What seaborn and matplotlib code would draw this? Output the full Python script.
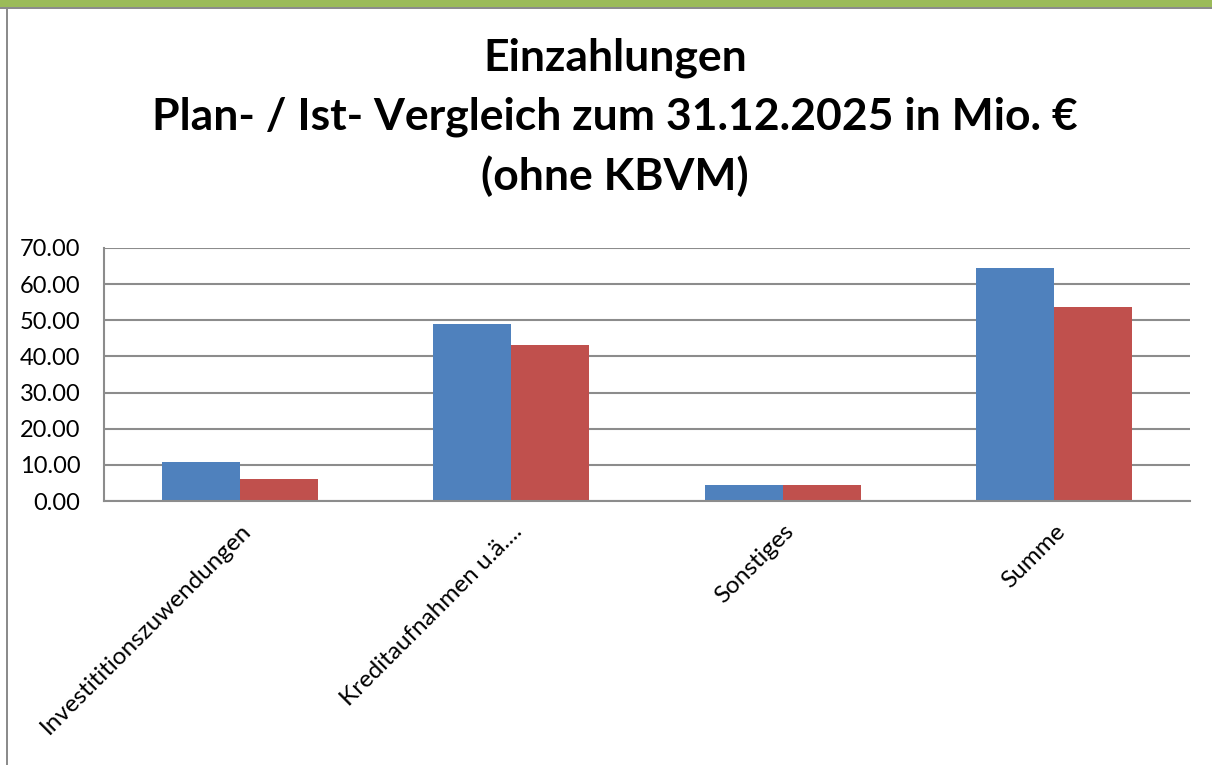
import matplotlib
matplotlib.use("Agg")
import matplotlib.pyplot as plt
from matplotlib.patches import Rectangle
import seaborn as sns
import pandas as pd

categories = ["Investititionszuwendungen", "Kreditaufnahmen u.ä....", "Sonstiges", "Summe"]
plan_values = [10.9, 49.0, 4.5, 64.4]
ist_values = [6.2, 43.1, 4.3, 53.6]
series_names = ["Plan", "Ist"]
title_lines = ["Einzahlungen", "Plan- / Ist- Vergleich zum 31.12.2025 in Mio. €", "(ohne KBVM)"]
y_ticks = [0, 10, 20, 30, 40, 50, 60, 70]

df = pd.DataFrame({
    "Kategorie": categories * 2,
    "Wert": plan_values + ist_values,
    "Reihe": [series_names[0]] * len(categories) + [series_names[1]] * len(categories),
})

sns.set_theme(style="white")
plt.rcParams["font.family"] = ["Lato", "DejaVu Sans"]

W, H = 1212, 765
fig = plt.figure(figsize=(W / 100, H / 100), dpi=100)
fig.patch.set_facecolor("white")

ax = fig.add_axes([104 / W, 1 - 501 / H, (1190 - 104) / W, (501 - 248) / H])
sns.barplot(data=df, x="Kategorie", y="Wert", hue="Reihe",
            palette=["#4F81BD", "#C0504D"], width=0.575, saturation=1,
            legend=False, ax=ax)
for p in ax.patches:
    p.set_edgecolor("none")

ax.set_xlim(-0.5, len(categories) - 0.5)
ax.set_ylim(0, 70)
ax.set_yticks(y_ticks)
ax.set_yticklabels([f"{v:.2f}" for v in y_ticks], fontsize=17, color="black")
ax.set_xlabel("")
ax.set_ylabel("")
ax.grid(axis="y", color="#8c8c8c", linewidth=1.5)
ax.set_axisbelow(True)
for s in ["top", "right"]:
    ax.spines[s].set_visible(False)
for s in ["left", "bottom"]:
    ax.spines[s].set_color("#8c8c8c")
    ax.spines[s].set_linewidth(1.5)
ax.tick_params(axis="y", length=0, pad=17)
ax.tick_params(axis="x", length=0, pad=14)
ax.set_xticks(range(len(categories)))
ax.set_xticklabels(categories, rotation=45, ha="right", va="top",
                   rotation_mode="anchor", fontsize=17.5, color="black")

# Title block
title_y = [58, 117, 176]
for line, yp in zip(title_lines, title_y):
    fig.text(615 / W, 1 - yp / H, line, ha="center", va="center",
             fontsize=32, fontweight="bold", color="black")

# Frame: green band on top, grey edges
fig.add_artist(Rectangle((0, 1 - 7 / H), 1, 7 / H, transform=fig.transFigure,
                         facecolor="#9BBB59", edgecolor="none"))
fig.add_artist(Rectangle((0, 1 - 9 / H), 1, 2 / H, transform=fig.transFigure,
                         facecolor="#8c8c8c", edgecolor="none"))
fig.add_artist(Rectangle((6 / W, 0), 2 / W, 1 - 9 / H, transform=fig.transFigure,
                         facecolor="#8c8c8c", edgecolor="none"))

fig.savefig("out.png", dpi=100, facecolor="white")
